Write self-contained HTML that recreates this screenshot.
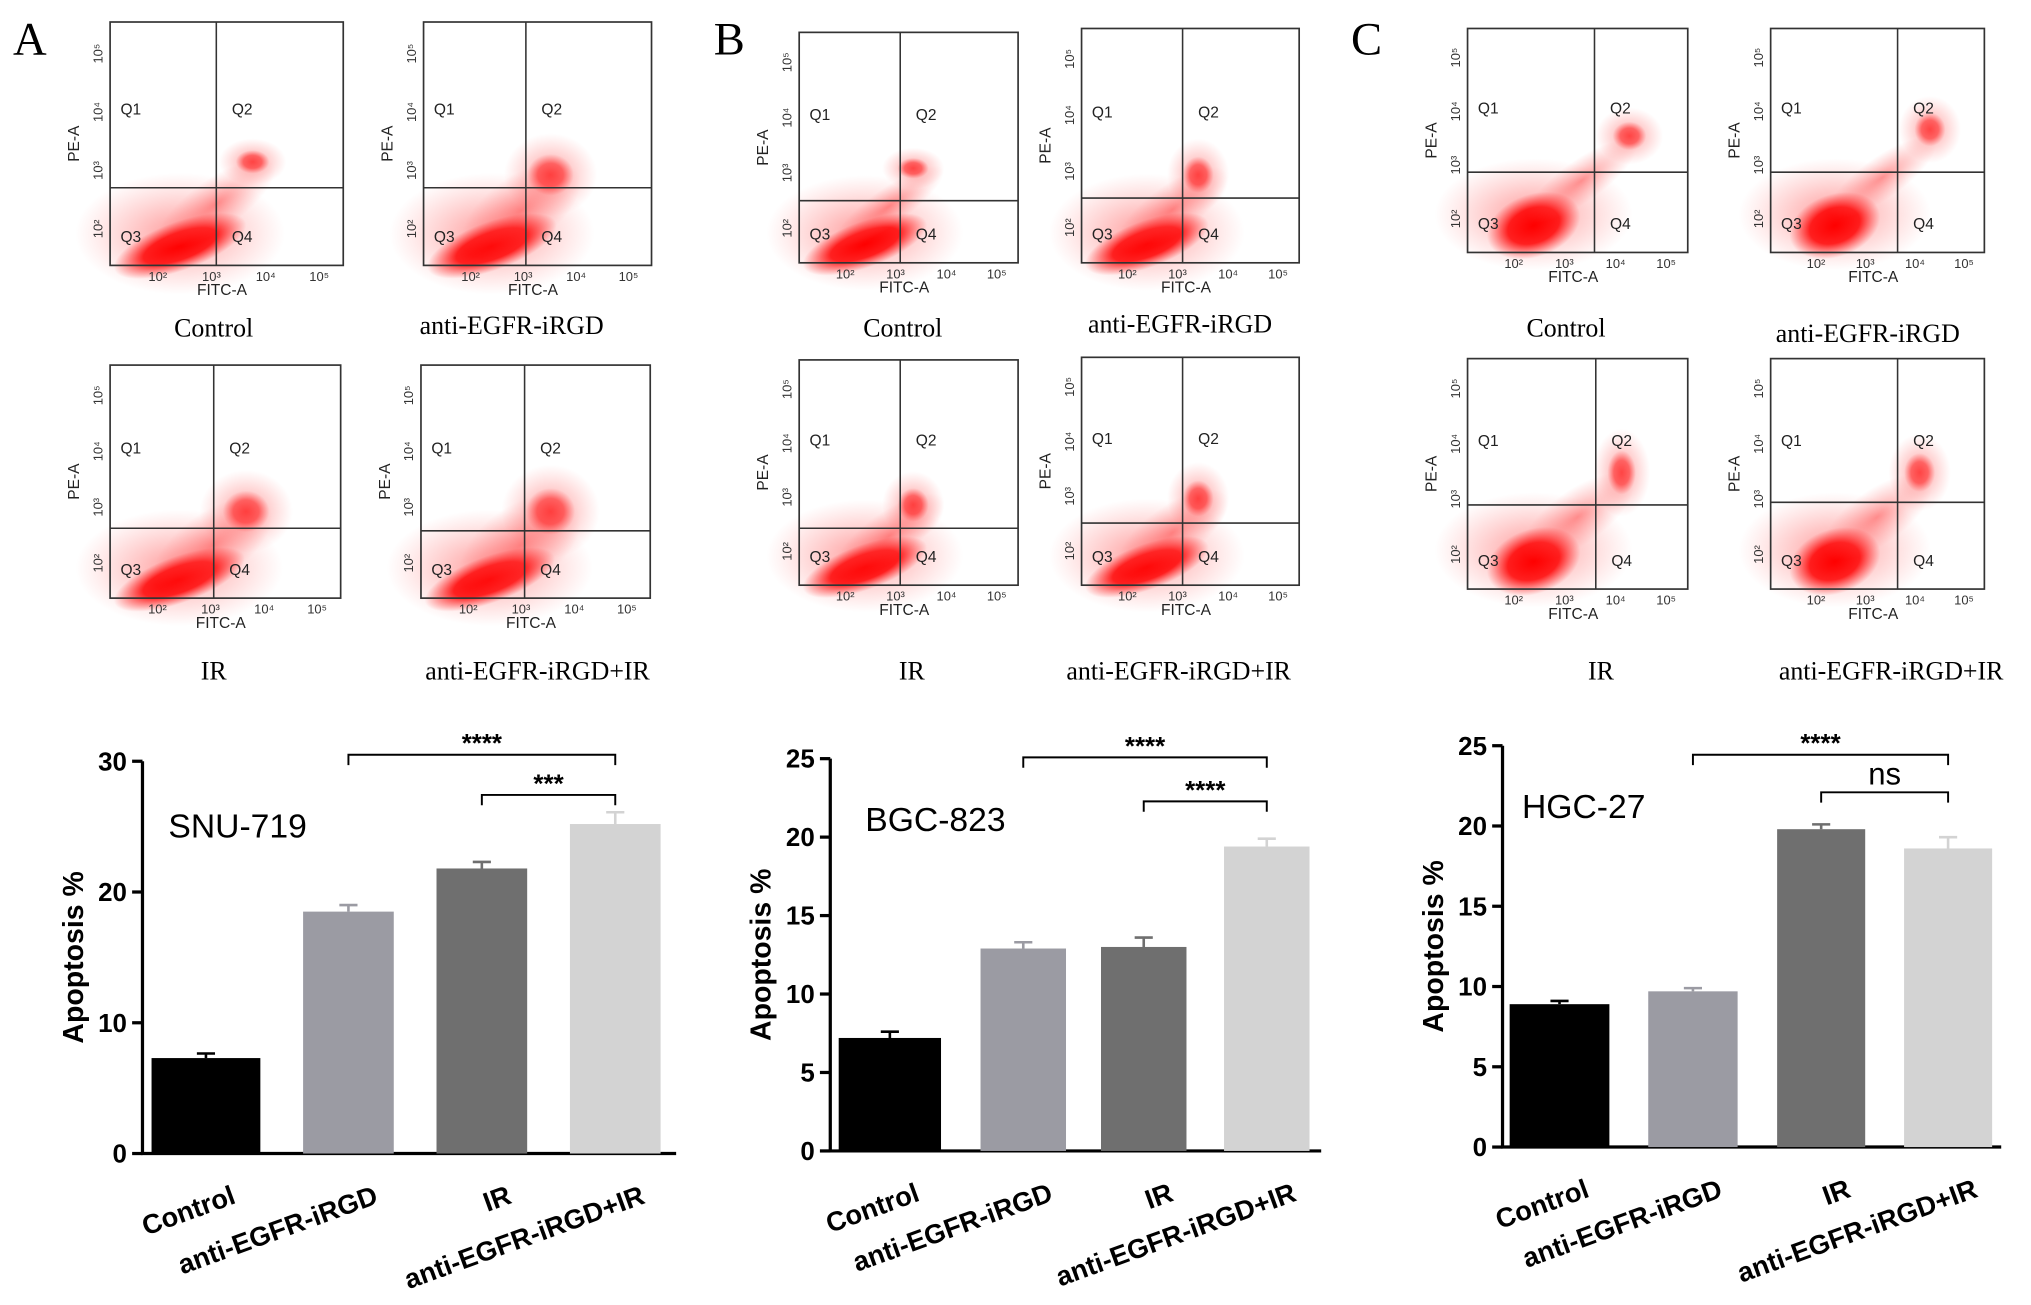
<!DOCTYPE html>
<html><head><meta charset="utf-8"><style>
html,body{margin:0;padding:0;background:#fff;}
svg{display:block;}
text{font-family:"Liberation Sans",sans-serif;}
text.serif{font-family:"Liberation Serif",serif;}
</style></head><body>
<svg id="fig" width="2031" height="1305" viewBox="0 0 1568 1008" preserveAspectRatio="none" xmlns="http://www.w3.org/2000/svg">
<defs>
<radialGradient id="blob"><stop offset="0" stop-color="#ff0000" stop-opacity="1"/><stop offset="0.55" stop-color="#ff0000" stop-opacity="0.85"/><stop offset="1" stop-color="#ff2020" stop-opacity="0"/></radialGradient>
<radialGradient id="haze"><stop offset="0" stop-color="#ff3030" stop-opacity="0.5"/><stop offset="1" stop-color="#ff6060" stop-opacity="0"/></radialGradient>
</defs>
<g id="scatters"></g>
<g id="bars"></g>
<text class="serif" x="10" y="42" font-size="36">A</text>
<text class="serif" x="551" y="42" font-size="36">B</text>
<text class="serif" x="1043" y="42" font-size="36">C</text>
</svg>
<script>
const NS="http://www.w3.org/2000/svg";
function mk(tag,attrs,parent,txt){const e=document.createElementNS(NS,tag);for(const k in attrs)e.setAttribute(k,attrs[k]);if(txt!==undefined)e.textContent=txt;parent.appendChild(e);return e;}

// ---- bar chart data ----
const categories=["Control","anti-EGFR-iRGD","IR","anti-EGFR-iRGD+IR"];
const snuValues=[7.3,18.5,21.8,25.2];
const snuErrors=[0.35,0.5,0.5,0.9];
const bgcValues=[7.2,12.9,13.0,19.4];
const bgcErrors=[0.4,0.4,0.6,0.5];
const hgcValues=[8.9,9.7,19.8,18.6];
const hgcErrors=[0.2,0.2,0.3,0.7];
const snuTicks=[0,10,20,30];
const bgcTicks=[0,5,10,15,20,25];
const hgcTicks=[0,5,10,15,20,25];
const barColors=["#000000","#9b9ba3","#6f6f6f","#d3d3d3"];

const bars=document.getElementById('bars');
function barChart(cfg){
  const g=mk('g',{},bars);
  
  
  const y=v=>cfg.y0-(v/cfg.max)*(cfg.y0-cfg.yTop);
  const ax=mk('line',{x1:cfg.ax,y1:y(cfg.max),x2:cfg.ax,y2:cfg.y0+1,stroke:'#000','stroke-width':2.5},g);
  
  const xa=mk('line',{x1:cfg.ax-1,y1:cfg.y0,x2:cfg.xEnd,y2:cfg.y0,stroke:'#000','stroke-width':2.5},g);
  
  cfg.ticks.forEach(t=>{
    mk('line',{x1:cfg.ax-8,y1:y(t),x2:cfg.ax,y2:y(t),stroke:'#000','stroke-width':2.5},g);
    const tl=mk('text',{x:cfg.ax-12,y:y(t)+7,'text-anchor':'end','font-size':20,'font-weight':'bold'},g,String(t));
    
  });
  const yt=mk('text',{x:0,y:0,transform:`translate(${cfg.ax-46},${(cfg.y0+y(cfg.max))/2}) rotate(-90)`,'text-anchor':'middle','font-size':22,'font-weight':'bold'},g,'Apoptosis %');
  
  const tt=mk('text',{x:cfg.tx,y:cfg.ty,'font-size':26},g,cfg.title);
  
  cfg.values.forEach((v,i)=>{
    const cx=cfg.centers[i],w=cfg.widths[i];
    const r=mk('rect',{x:cx-w/2,y:y(v),width:w,height:cfg.y0-y(v),fill:barColors[i]},g);
    
    
    const e=cfg.errors[i];
    const eb=mk('path',{d:`M${cx} ${y(v)} V${y(v+e)} M${cx-7} ${y(v+e)} H${cx+7}`,stroke:barColors[i]==='#000000'?'#000':barColors[i],'stroke-width':2,fill:'none'},g);
    
    const lb=mk('text',{x:0,y:0,transform:`translate(${cx+24},${cfg.y0+38}) rotate(-20)`,'text-anchor':'end','font-size':21,'font-weight':'bold'},g,categories[i]);
    
  });
  cfg.sig.forEach(s=>{
    const x1=cfg.centers[s[0]],x2=cfg.centers[s[1]];
    const b=mk('path',{d:`M${x1} ${s[2]+8} V${s[2]} H${x2} V${s[2]+8}`,stroke:'#000','stroke-width':1.5,fill:'none'},g);
    
    const st=mk('text',{x:(x1+x2)/2,y:s[2]-(s[3]==='ns'?6:2),'text-anchor':'middle','font-size':s[3]==='ns'?24:20,'font-weight':s[3]==='ns'?'normal':'bold'},g,s[3]);
    
  });
}
barChart({name:'snu-719',title:'SNU-719',tx:130,ty:647,ax:110,y0:891,yTop:588,max:30,xEnd:522,ticks:snuTicks,values:snuValues,errors:snuErrors,
  centers:[159,269,372,475],widths:[84,70,70,70],sig:[[1,3,583,'****'],[2,3,614,'***']]});
barChart({name:'bgc-823',title:'BGC-823',tx:668,ty:642,ax:641,y0:889,yTop:586,max:25,xEnd:1020,ticks:bgcTicks,values:bgcValues,errors:bgcErrors,
  centers:[687,790,883,978],widths:[79,66,66,66],sig:[[1,3,585,'****'],[2,3,619,'****']]});
barChart({name:'hgc-27',title:'HGC-27',tx:1175,ty:632,ax:1160,y0:886,yTop:576,max:25,xEnd:1545,ticks:hgcTicks,values:hgcValues,errors:hgcErrors,
  centers:[1204,1307,1406,1504],widths:[77,69,68,68],sig:[[1,3,583,'****'],[2,3,612,'ns']]});

// ---- flow cytometry panels (layout only, clouds drawn as density shapes) ----
const sc=document.getElementById('scatters');
const panels=[
 {n:'a-control',x1:85,y1:17,x2:265,y2:205,vx:167,hy:145,lab:'Control',lx:165,ly:260,q2:[195,125,26,18],strand:0.6},
 {n:'a-anti',x1:327,y1:17,x2:503,y2:205,vx:406,hy:145,lab:'anti-EGFR-iRGD',lx:395,ly:258,q2:[425,135,36,32],strand:0.9},
 {n:'a-ir',x1:85,y1:282,x2:263,y2:462,vx:165,hy:408,lab:'IR',lx:165,ly:525,q2:[190,395,36,32],strand:0.9},
 {n:'a-combo',x1:325,y1:282,x2:502,y2:462,vx:405,hy:410,lab:'anti-EGFR-iRGD+IR',lx:415,ly:525,q2:[425,395,38,36],strand:1.1},
 {n:'b-control',x1:617,y1:25,x2:786,y2:203,vx:695,hy:155,lab:'Control',lx:697,ly:260,q2:[705,130,24,16],strand:0.4},
 {n:'b-anti',x1:835,y1:22,x2:1003,y2:203,vx:913,hy:153,lab:'anti-EGFR-iRGD',lx:911,ly:257,q2:[925,135,24,28],strand:0.6},
 {n:'b-ir',x1:617,y1:278,x2:786,y2:452,vx:695,hy:408,lab:'IR',lx:704,ly:525,q2:[705,390,24,26],strand:0.6},
 {n:'b-combo',x1:835,y1:276,x2:1003,y2:452,vx:913,hy:404,lab:'anti-EGFR-iRGD+IR',lx:910,ly:525,q2:[925,385,24,28],strand:0.7},
 {n:'c-control',x1:1133,y1:22,x2:1303,y2:195,vx:1231,hy:133,lab:'Control',lx:1209,ly:260,q2:[1258,105,26,22],strand:0.5},
 {n:'c-anti',x1:1367,y1:22,x2:1532,y2:195,vx:1465,hy:133,lab:'anti-EGFR-iRGD',lx:1442,ly:264,q2:[1490,100,24,26],strand:0.5},
 {n:'c-ir',x1:1133,y1:277,x2:1303,y2:455,vx:1232,hy:390,lab:'IR',lx:1236,ly:525,q2:[1252,365,22,34],strand:0.7},
 {n:'c-combo',x1:1367,y1:277,x2:1532,y2:455,vx:1465,hy:388,lab:'anti-EGFR-iRGD+IR',lx:1460,ly:525,q2:[1482,365,24,30],strand:0.7}
];
panels.forEach(p=>{
  const g=mk('g',{},sc);
  
  
  const w=p.x2-p.x1,h=p.y2-p.y1;
  const isC=p.n[0]==='c';
  const bx=p.x1+(isC?w*0.3:w*0.3), by=p.y2-(isC?h*0.12:h*0.08);
  mk('ellipse',{cx:bx,cy:by-h*0.05,rx:w*0.45,ry:h*0.25,fill:'url(#haze)'},g);
  mk('ellipse',{cx:bx,cy:by,rx:w*(isC?0.22:0.3),ry:h*(isC?0.14:0.1),fill:'url(#blob)',transform:`rotate(-20 ${bx} ${by})`},g);
  const sx=(bx+p.q2[0])/2, sy=(by+p.q2[1])/2;
  mk('ellipse',{cx:sx,cy:sy,rx:w*0.3,ry:h*0.13*p.strand+5,fill:'url(#haze)',transform:`rotate(-35 ${sx} ${sy})`},g);
  mk('ellipse',{cx:p.q2[0],cy:p.q2[1],rx:p.q2[2],ry:p.q2[3],fill:'url(#haze)'},g);
  mk('ellipse',{cx:p.q2[0],cy:p.q2[1],rx:p.q2[2]*0.5,ry:p.q2[3]*0.5,fill:'url(#blob)',opacity:0.55},g);
  const f=mk('rect',{x:p.x1,y:p.y1,width:w,height:h,fill:'none',stroke:'#333','stroke-width':1.3},g);
  
  mk('line',{x1:p.vx,y1:p.y1,x2:p.vx,y2:p.y2,stroke:'#333','stroke-width':1.2},g);
  mk('line',{x1:p.x1,y1:p.hy,x2:p.x2,y2:p.hy,stroke:'#333','stroke-width':1.2},g);
  const qs=[['Q1',p.x1+8,p.y1+h*0.38],['Q2',p.vx+12,p.y1+h*0.38],['Q3',p.x1+8,p.y2-18],['Q4',p.vx+12,p.y2-18]];
  qs.forEach(q=>{const t=mk('text',{x:q[1],y:q[2],'font-size':12,fill:'#222'},g,q[0]);});
  ['10²','10³','10⁴','10⁵'].forEach((t,i)=>{mk('text',{x:p.x1+w*(0.12+i*0.23)+8,y:p.y2+12,'font-size':10,fill:'#333'},g,t);});
  const xt=mk('text',{x:p.x1+w*0.48,y:p.y2+23,'font-size':12,fill:'#222','text-anchor':'middle'},g,'FITC-A');
  
  ['10²','10³','10⁴','10⁵'].forEach((t,i)=>{const yy=p.y2-h*(0.15+i*0.24);mk('text',{x:0,y:0,transform:`translate(${p.x1-6},${yy}) rotate(-90)`,'font-size':10,fill:'#333','text-anchor':'middle'},g,t);});
  const yl=mk('text',{x:0,y:0,transform:`translate(${p.x1-24},${p.y1+h*0.5}) rotate(-90)`,'font-size':12,fill:'#222','text-anchor':'middle'},g,'PE-A');
  
  const lab=mk('text',{x:p.lx,y:p.ly,'font-size':20,'text-anchor':'middle','class':'serif'},g,p.lab);
  
});
</script>
</body></html>
